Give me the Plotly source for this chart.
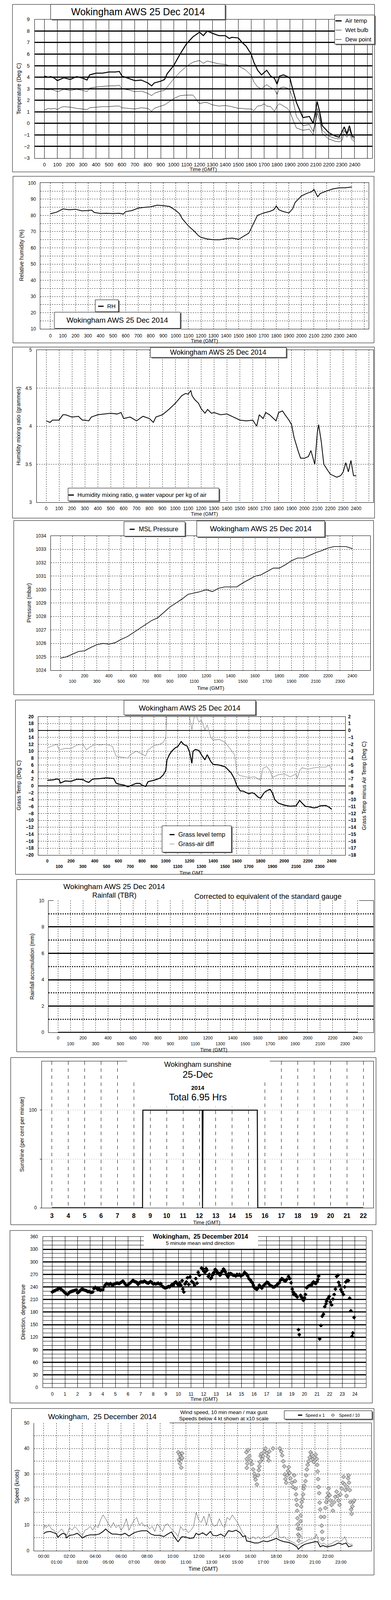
import plotly.graph_objects as go

# ===================== DATA =====================
# Panel 1 - temperatures; time axis in "HHMM" hundreds (hours x 100)
t_temp = [0, 30, 50, 80, 100, 130, 150, 200, 250, 300, 330, 350, 400, 450, 500, 550, 580, 600, 650, 700,
          750, 800, 830, 850, 900, 930, 950, 1000, 1050, 1100, 1150, 1200, 1230, 1260, 1300, 1350, 1400,
          1430, 1450, 1500, 1530, 1560, 1600, 1620, 1650, 1680, 1700, 1720, 1750, 1780, 1800, 1820, 1850,
          1880, 1900, 1920, 1950, 2000, 2050, 2080, 2100, 2110, 2130, 2150, 2200, 2250, 2280, 2300, 2320,
          2340, 2360, 2380, 2400]
air_temp = [4.1, 4.0, 4.05, 3.9, 3.7, 3.85, 3.95, 3.8, 4.05, 3.9, 3.75, 4.2, 4.35, 4.35, 4.45, 4.45, 4.5, 4.1,
            3.9, 3.7, 3.75, 3.5, 3.25, 3.5, 3.65, 3.8, 4.3, 5.0, 6.0, 6.9, 7.5, 7.9, 7.6, 8.0, 7.8, 7.6, 7.6,
            7.35, 7.45, 7.4, 7.0, 6.7, 6.0, 5.3, 4.6, 4.2, 4.4, 4.6, 4.1, 3.9, 3.4, 4.1, 4.2, 4.05, 3.9, 3.0,
            1.8, 0.5, 0.6, 0.0, 1.2, 1.9, 1.0, -0.2, -0.8, -1.1, -1.2, -0.8, -0.3, -0.9, -0.2, -1.1, -1.2]
wet_bulb = [2.95, 2.9, 2.95, 2.85, 2.75, 2.85, 2.95, 2.85, 2.95, 2.85, 2.75, 3.05, 3.15, 3.2, 3.25, 3.25, 3.3,
            3.0, 2.9, 2.75, 2.8, 2.6, 2.4, 2.6, 2.8, 2.85, 3.15, 3.85, 4.45, 4.95, 5.3, 5.45, 5.2, 5.4, 5.3,
            5.15, 5.1, 5.0, 5.0, 4.95, 4.8, 4.6, 4.15, 3.6, 3.15, 3.0, 3.2, 3.35, 3.1, 2.95, 2.5, 3.05, 3.15,
            3.05, 2.85, 2.2, 0.6, -0.2, -0.1, -0.7, 0.4, 1.3, 0.6, -0.6, -1.1, -1.3, -1.35, -1.2, -0.6, -1.0,
            -0.5, -1.2, -1.4]
dew_point = [1.15, 1.3, 1.25, 1.3, 1.2, 1.4, 1.45, 1.4, 1.3, 1.25, 1.2, 1.35, 1.4, 1.45, 1.45, 1.5, 1.5, 1.35,
             1.3, 1.25, 1.35, 1.3, 1.05, 1.3, 1.5, 1.6, 1.75, 2.15, 2.4, 2.45, 2.45, 1.7, 1.8, 1.8, 1.6, 1.5,
             1.55, 1.5, 1.45, 1.3, 1.3, 1.25, 1.25, 1.1, 1.5, 1.55, 1.7, 1.5, 1.45, 1.05, 1.5, 1.7, 1.5, 1.3,
             1.0, 0.4, -0.4, -0.6, -0.5, -1.0, 0.2, 0.9, 0.3, -0.9, -1.35, -1.55, -1.6, -1.5, -0.9, -1.2, -0.9,
             -1.4, -1.6]

# Panel 2 - relative humidity
t_rh = [0, 50, 100, 150, 200, 250, 300, 330, 350, 400, 450, 500, 550, 580, 600, 650, 700, 750, 800, 850, 900,
        950, 1000, 1030, 1050, 1100, 1150, 1180, 1200, 1250, 1300, 1350, 1400, 1450, 1500, 1550, 1580, 1600,
        1630, 1650, 1700, 1750, 1780, 1800, 1820, 1850, 1900, 1930, 1950, 2000, 2050, 2080, 2100, 2130, 2150,
        2200, 2250, 2300, 2350, 2400]
rel_hum = [81, 82, 84, 83.5, 83.8, 82.8, 83, 83.2, 81.8, 81.2, 81.3, 81.1, 81.3, 80.8, 82.3, 83, 84.5, 85, 85.3,
           86.3, 86, 85.5, 83, 81, 78, 73.5, 70, 67.5, 66.5, 65.5, 65, 65, 65.7, 66, 65.3, 67.5, 69, 72, 77, 80,
           81.5, 82.5, 83.5, 85.8, 83.5, 82.5, 81.5, 84, 88, 92, 93.8, 94.5, 96, 91.5, 93.5, 95, 96.3, 97, 97,
           97.5]

# Panel 3 - humidity mixing ratio
t_mix = [0, 30, 50, 100, 130, 150, 200, 250, 280, 300, 330, 350, 400, 450, 500, 550, 580, 600, 650, 700, 750,
         800, 830, 850, 900, 950, 1000, 1050, 1080, 1100, 1120, 1130, 1150, 1180, 1200, 1230, 1250, 1280, 1300,
         1350, 1400, 1450, 1500, 1550, 1600, 1630, 1650, 1680, 1700, 1730, 1750, 1780, 1800, 1830, 1850, 1880,
         1900, 1920, 1950, 1970, 2000, 2030, 2050, 2080, 2100, 2110, 2130, 2150, 2180, 2200, 2250, 2280, 2300,
         2320, 2340, 2360, 2380, 2400]
mix_ratio = [4.07, 4.05, 4.08, 4.08, 4.15, 4.15, 4.12, 4.13, 4.08, 4.08, 4.07, 4.12, 4.15, 4.16, 4.17, 4.16,
             4.18, 4.1, 4.12, 4.07, 4.13, 4.1, 4.05, 4.12, 4.15, 4.22, 4.3, 4.4, 4.43, 4.42, 4.47, 4.4, 4.35,
             4.3, 4.23, 4.17, 4.22, 4.17, 4.18, 4.15, 4.16, 4.12, 4.08, 4.07, 4.08, 4.0, 4.15, 4.1, 4.18, 4.15,
             4.12, 4.07, 4.18, 4.2, 4.15, 4.08, 4.02, 3.85, 3.68, 3.58, 3.58, 3.6, 3.68, 3.5, 3.92, 4.02, 3.8,
             3.5, 3.42, 3.37, 3.33, 3.35, 3.4, 3.52, 3.4, 3.55, 3.35, 3.35]

# Panel 4 - MSL pressure (every 30 minutes)
t_pres = [0, 50, 100, 150, 200, 250, 300, 350, 400, 450, 500, 550, 600, 650, 700, 750, 800, 850, 900, 950, 1000,
          1050, 1100, 1150, 1200, 1250, 1300, 1350, 1400, 1450, 1500, 1550, 1600, 1650, 1700, 1750, 1800, 1850,
          1900, 1950, 2000, 2050, 2100, 2150, 2200, 2250, 2300, 2350, 2400]
pressure = [1024.9, 1025.0, 1025.2, 1025.4, 1025.45, 1025.7, 1025.9, 1026.0, 1025.95, 1026.05, 1026.3, 1026.5,
            1026.8, 1027.1, 1027.4, 1027.7, 1027.9, 1028.3, 1028.7, 1029.0, 1029.3, 1029.65, 1029.75, 1029.85,
            1030.0, 1029.85, 1030.1, 1030.2, 1030.2, 1030.2, 1030.5, 1030.75, 1031.0, 1031.1, 1031.35, 1031.6,
            1031.6, 1031.85, 1032.15, 1032.35, 1032.35, 1032.55, 1032.75, 1032.9, 1033.1, 1033.2, 1033.2,
            1033.2, 1033.05]

# Panel 5 - grass temperature and grass-air difference
t_grass = [0, 50, 80, 100, 110, 150, 200, 250, 300, 330, 350, 380, 400, 450, 500, 540, 560, 580, 600, 650, 680,
           700, 750, 780, 800, 830, 850, 900, 950, 980, 1000, 1010, 1030, 1050, 1080, 1100, 1130, 1150, 1180,
           1200, 1220, 1230, 1250, 1280, 1300, 1330, 1350, 1380, 1400, 1450, 1500, 1530, 1550, 1580, 1600,
           1630, 1650, 1700, 1730, 1750, 1780, 1800, 1830, 1850, 1880, 1900, 1920, 1950, 2000, 2050, 2100,
           2130, 2150, 2180, 2200, 2250, 2280, 2300, 2350, 2380, 2400]
grass_temp = [1.6, 1.7, 2.0, 1.8, 0.8, 1.4, 1.3, 1.9, 1.8, 1.2, 1.0, 1.9, 2.0, 2.1, 2.3, 2.2, 2.1, 0.8, 0.5,
              0.2, -0.3, 0.0, 0.7, 0.7, 0.2, -0.2, 1.2, 1.6, 2.2, 3.2, 4.5, 7.5, 9.0, 10.0, 11.0, 11.3, 12.8,
              12.0, 11.5, 9.8, 6.5, 10.0, 10.5, 10.2, 9.0, 7.5, 9.0, 7.0, 6.2, 6.0, 5.5, 4.5, 3.8, 2.0, 0.0,
              -1.5, -1.5, -2.3, -2.0, -2.3, -3.3, -3.6, -2.0, -1.5, -1.0, -2.0, -4.0, -5.0, -5.6, -5.9, -5.8,
              -4.2, -5.0, -6.0, -6.0, -6.4, -6.2, -5.8, -5.7, -6.2, -6.8]
t_diff = [0, 50, 80, 100, 150, 200, 250, 300, 330, 350, 400, 450, 500, 550, 580, 600, 650, 680, 700, 750, 800,
          830, 850, 900, 950, 980, 1000, 1010, 1050, 1100, 1150, 1190, 1200, 1220, 1240, 1260, 1280, 1300, 1330,
          1350, 1380, 1400, 1450, 1500, 1550, 1580, 1600, 1620, 1650, 1700, 1750, 1800, 1820, 1850, 1880, 1900,
          1950, 2000, 2050, 2100, 2110, 2130, 2150, 2200, 2250, 2300, 2350, 2380, 2400]
grass_air_diff = [-2.5, -2.2, -2.0, -2.8, -2.6, -2.6, -2.1, -2.0, -2.8, -2.5, -2.0, -2.1, -2.0, -2.3, -3.7,
                  -3.8, -3.9, -4.0, -3.5, -3.0, -3.4, -3.7, -2.8, -2.2, -2.0, -1.7, -1.0, 3.0, 4.0, 4.4, 4.5,
                  3.5, 2.0, 0.1, 2.0, 2.0, 1.2, 1.5, 0.1, 0.8, -1.0, -1.4, -1.3, -1.7, -2.8, -3.5, -6.0, -6.5,
                  -6.6, -6.8, -6.7, -7.2, -5.5, -5.2, -5.8, -6.8, -6.4, -6.3, -6.7, -6.3, -6.9, -5.8, -5.4,
                  -5.6, -5.4, -5.3, -5.3, -5.0, -5.7]

# Panel 6 - rainfall accumulation (none fell)
t_rain = [0, 2400]
rain_accum = [0.0, 0.0]

# Panel 7 - sunshine (hours GMT, per cent per minute)
sun_hours = [3.0, 8.53, 8.55, 12.17, 12.19, 12.22, 15.53, 15.56, 22.0]
sunshine = [0, 0, 100, 100, 0, 100, 100, 0, 0]

# Panel 8 - 5 minute mean wind direction (hours GMT, degrees true)
dir_hours_early = [i / 10 for i in range(104)]
wind_dir_early = [228, 230, 231, 233, 234, 236, 237, 234, 232, 229,
                  226, 224, 222, 225, 228, 229, 230, 231, 232, 233,
                  226, 228, 231, 234, 235, 233, 232, 231, 229, 229,
                  228, 227, 228, 236, 239, 237, 234, 236, 232, 233,
                  233, 240, 245, 248, 247, 246, 248, 246, 244, 247,
                  248, 249, 249, 248, 250, 252, 254, 250, 246, 243,
                  245, 248, 250, 253, 256, 253, 252, 251, 246, 250,
                  252, 252, 252, 254, 252, 250, 249, 251, 253, 250,
                  247, 248, 247, 248, 249, 247, 248, 242, 240, 238,
                  238, 239, 241, 240, 243, 246, 244, 250, 252, 248,
                  244, 250, 244, 255]
dir_hours_late = [10.35, 10.43, 10.53, 10.63, 10.72, 10.82, 10.92, 11.06, 11.18, 11.28, 11.38, 11.48, 11.57,
                  11.67, 11.83, 11.97, 12.0, 12.11, 12.2, 12.27, 12.37, 12.45, 12.56, 12.62, 12.70, 12.76,
                  12.82, 12.92, 13.0, 13.06, 13.14, 13.22, 13.3, 13.36, 13.42, 13.49, 13.58, 13.65, 13.72,
                  13.79, 13.86, 13.93, 14.0, 14.08, 14.15, 14.25, 14.35, 14.44, 14.55, 14.65, 14.74, 14.85,
                  14.95, 15.04, 15.15, 15.25, 15.33, 15.43, 15.5, 15.59, 15.66, 15.73, 15.8, 15.87, 15.95,
                  16.03, 16.12, 16.22, 16.32, 16.42, 16.52, 16.62, 16.72, 16.82, 16.92, 17.02, 17.12, 17.21,
                  17.3, 17.41, 17.5, 17.61, 17.7, 17.81, 17.9, 18.0, 18.1, 18.2, 18.3, 18.4, 18.5, 18.6,
                  18.74, 18.84, 18.94, 19.03, 19.1, 19.15, 19.22, 19.29, 19.36, 19.43, 19.53, 19.59, 19.69,
                  19.76, 19.83, 19.92, 20.0, 20.08, 20.18, 20.28, 20.38, 20.48, 20.58, 20.65, 20.72, 20.8,
                  20.87, 20.94, 21.01, 21.07, 21.13, 21.21, 21.31, 21.41, 21.51, 21.61, 21.71, 21.76, 21.86,
                  21.96, 22.06, 22.16, 22.26, 22.36, 22.46, 22.56, 22.66, 22.71, 22.79, 22.89, 22.99, 23.09,
                  23.19, 23.29, 23.41, 23.49, 23.59, 23.68, 23.78, 23.84, 23.94]
wind_dir_late = [235, 228, 247, 252, 262, 246, 264, 253, 250, 244,
                 260, 249, 275, 268, 285, 283, 278, 275, 284, 280,
                 265, 270, 260, 262, 268, 272, 275, 282, 280, 275,
                 274, 272, 268, 270, 275, 278, 283, 280, 276, 270,
                 268, 264, 272, 270, 272, 270, 268, 268, 266, 270,
                 268, 270, 266, 268, 270, 275, 272, 270, 266, 260,
                 258, 256, 252, 250, 244, 238, 236, 234, 238, 244,
                 240, 237, 242, 245, 248, 251, 250, 246, 243, 242,
                 240, 240, 242, 244, 248, 250, 256, 260, 258, 255,
                 254, 258, 265, 260, 250, 235, 228, 222, 223, 222,
                 218, 216, 138, 126, 220, 216, 213, 208, 214, 222,
                 238, 241, 243, 244, 245, 250, 252, 250, 248, 250,
                 253, 258, 266, 116, 148, 170, 175, 193, 200, 206,
                 212, 217, 204, 197, 211, 222, 235, 265, 268, 251,
                 244, 234, 228, 222, 240, 252, 256, 255, 213, 183,
                 122, 130, 167]

# Panel 9 - wind speed (hours GMT, knots)
mean_hours = [0.0, 0.2, 0.5, 0.8, 1.0, 1.1, 1.3, 1.5, 1.7, 1.75, 2.0, 2.3, 2.6, 2.8, 3.0, 3.3, 3.6, 4.0, 4.3,
              4.6, 4.8, 5.0, 5.3, 5.6, 6.0, 6.3, 6.6, 7.0, 7.3, 7.6, 8.0, 8.3, 8.6, 9.0, 9.3, 9.6, 9.9, 10.1,
              10.4, 10.7, 11.0, 11.3, 11.6, 11.8, 12.0, 12.3, 12.6, 12.9, 13.1, 13.4, 13.7, 14.0, 14.3, 14.6,
              14.9, 15.2, 15.4, 15.6, 15.7, 16.0, 16.3, 16.6, 17.0, 17.3, 17.6, 18.0, 18.3, 18.6, 19.0, 19.3,
              19.6, 19.7, 19.9, 20.2, 20.6, 21.0, 21.2, 21.4, 21.6, 21.9, 22.2, 22.5, 22.8, 23.1, 23.4, 23.6, 23.9]
mean_speed = [6.7, 7.3, 7.5, 7.0, 6.5, 5.2, 6.2, 6.8, 6.3, 5.0, 6.0, 6.2, 6.8, 6.0, 5.0, 5.8, 6.2, 6.2, 6.5,
              7.5, 8.5, 7.5, 6.5, 6.5, 6.2, 6.8, 5.7, 7.0, 7.5, 7.8, 7.8, 6.5, 6.0, 6.0, 5.5, 6.5, 7.3, 5.5,
              3.5, 5.5, 5.3, 4.8, 5.0, 6.8, 6.2, 7.0, 6.0, 7.5, 6.0, 5.8, 6.5, 5.5, 7.8, 7.5, 8.0, 7.0, 5.5,
              5.8, 3.8, 3.5, 3.0, 3.0, 3.8, 3.5, 4.0, 4.8, 4.0, 3.5, 3.2, 2.5, 1.5, 0.5, 1.5, 2.5, 3.0, 3.5,
              3.5, 1.5, 2.0, 1.5, 1.8, 2.2, 3.0, 2.5, 3.0, 1.5, 2.0]
gust_hours = [0.0, 0.1, 0.2, 0.4, 0.6, 0.8, 1.0, 1.2, 1.4, 1.6, 1.8, 2.0, 2.2, 2.4, 2.6, 2.8, 3.0, 3.2, 3.4, 3.6,
              3.8, 4.0, 4.2, 4.4, 4.6, 4.8, 5.0, 5.2, 5.4, 5.6, 5.8, 6.0, 6.2, 6.4, 6.6, 6.8, 7.0, 7.2, 7.4, 7.6,
              7.8, 8.0, 8.2, 8.4, 8.6, 8.8, 9.0, 9.2, 9.4, 9.6, 9.8, 10.0, 10.2, 10.4, 10.6, 10.8, 11.0, 11.2,
              11.4, 11.6, 11.8, 12.0, 12.2, 12.4, 12.6, 12.8, 13.0, 13.2, 13.4, 13.6, 13.8, 14.0, 14.2, 14.4,
              14.6, 14.8, 15.0, 15.2, 15.4, 15.6, 15.8, 16.0, 16.2, 16.4, 16.6, 16.8, 17.0, 17.2, 17.4, 17.6,
              17.8, 18.0, 18.1, 18.2, 18.4, 18.6, 18.8, 19.0, 19.2, 19.4, 19.6, 19.8, 20.0, 20.2, 20.4, 20.6,
              20.8, 21.0, 21.1, 21.3, 21.5, 21.7, 21.9, 22.1, 22.3, 22.5, 22.7, 22.9, 23.1, 23.3, 23.5, 23.7, 23.9]
gust_speed = [8.5, 10, 9, 10.2, 8.5, 8.0, 6.5, 7.5, 8.5, 7.0, 6.0, 9.0, 8.0, 9.5, 8.5, 7.0, 6.0, 8.0, 8.5, 9.5,
              8.0, 10.0, 9.0, 12.0, 14.0, 12.5, 10.5, 9.0, 11.0, 9.0, 10.0, 8.0, 9.5, 12.5, 8.0, 10.0, 12.0,
              13.0, 10.0, 11.0, 9.5, 10.0, 8.5, 9.5, 7.5, 10.5, 9.0, 7.5, 10.0, 10.5, 9.0, 8.0, 7.0, 5.5, 9.5,
              8.0, 8.5, 7.0, 8.0, 9.5, 15.0, 12.0, 11.0, 13.5, 10.0, 14.5, 11.0, 9.5, 10.0, 12.5, 10.0, 9.0,
              13.0, 12.0, 14.0, 12.5, 11.0, 9.0, 7.0, 6.0, 5.0, 4.5, 5.5, 4.5, 5.5, 4.5, 5.5, 5.0, 5.5, 6.0,
              7.0, 8.5, 10.0, 5.5, 5.0, 5.5, 4.5, 4.0, 3.5, 3.0, 2.0, 2.5, 3.0, 3.5, 4.0, 4.5, 4.5, 5.0, 6.5,
              3.5, 2.5, 3.0, 2.0, 2.5, 2.8, 3.5, 4.0, 3.5, 4.0, 5.5, 3.0, 2.5, 2.5]
low_hours = [10.42, 10.48, 10.52, 10.55, 10.61, 10.65, 10.67, 10.71, 10.71,
             15.69, 15.72, 15.72, 15.76, 15.82, 15.92, 16.01, 16.11, 16.21, 16.30, 16.34, 16.40, 16.50,
             16.59, 16.65, 16.69, 16.73, 16.79, 16.84, 16.92, 16.98, 17.08, 17.17, 17.27, 17.36, 17.42, 17.46,
             17.75, 18.27, 18.39, 18.46, 18.54, 18.62, 18.66, 18.71, 18.77, 18.85,
             18.91, 18.97, 19.04, 19.10, 19.20, 19.29, 19.39, 19.45, 19.49, 19.53,
             19.56, 19.60, 19.62, 19.64, 19.66, 19.68, 19.70, 19.74, 19.78, 19.83,
             19.87, 19.89, 19.93, 19.97, 20.03, 20.08, 20.12, 20.16, 20.26, 20.32,
             20.37, 20.43, 20.51, 20.59, 20.66, 20.74, 20.82, 20.90, 20.97, 21.05,
             21.13, 21.17, 21.20, 21.24, 21.28, 21.32, 21.36, 21.40, 21.45, 21.51, 21.55, 21.59,
             21.71, 21.80, 21.86, 21.94, 22.00, 22.05, 22.13, 22.19, 22.28, 22.38,
             22.48, 22.57, 22.67, 22.77, 22.82, 22.90, 22.96, 23.06, 23.15, 23.21,
             23.29, 23.35, 23.44, 23.50, 23.56, 23.60, 23.63, 23.69, 23.73, 23.79, 23.83, 23.89, 23.94, 24.02]
low_speed_x10 = [38.5, 35.6, 37.6, 34.1, 36.8, 32.5, 36.0, 38.1, 36.3,
                 38.5, 35.9, 32.4, 34.1, 39.4, 37.0, 35.3, 33.9, 31.8, 30.1, 28.9, 27.8, 25.9,
                 29.5, 31.5, 33.0, 34.7, 37.0, 37.9, 35.9, 37.0, 38.8, 40.0, 38.2, 36.8, 35.3, 38.8,
                 40.0, 40.0, 38.8, 37.3, 35.0, 33.0, 29.8, 28.0, 26.6, 29.5,
                 31.2, 32.7, 30.4, 28.3, 26.6, 24.9, 29.5, 27.2, 24.3, 22.0,
                 19.9, 17.9, 15.6, 12.7, 10.3, 8.6, 6.3, 3.9, 5.7, 8.6,
                 11.5, 13.8, 17.3, 19.0, 20.2, 22.0, 24.3, 25.4, 27.2, 29.5,
                 31.8, 33.6, 35.0, 36.5, 38.5, 37.6, 35.9, 34.7, 36.5, 37.6,
                 35.9, 33.6, 31.0, 28.0, 24.9, 22.5, 18.8, 16.1, 13.2, 9.8, 7.4, 4.5,
                 13.2, 16.7, 19.0, 20.8, 22.5, 24.3, 21.7, 19.6, 17.9, 15.6,
                 19.0, 21.1, 23.1, 21.4, 19.6, 17.9, 22.0, 24.3, 26.6, 28.9,
                 26.0, 23.7, 21.4, 24.9, 28.3, 29.5, 26.6, 23.7, 19.0, 16.1, 14.4, 17.3, 19.0, 19.6]

for a, b in [(t_temp, air_temp), (t_temp, wet_bulb), (t_temp, dew_point), (t_rh, rel_hum), (t_mix, mix_ratio),
             (t_pres, pressure), (t_grass, grass_temp), (t_diff, grass_air_diff), (sun_hours, sunshine),
             (dir_hours_early, wind_dir_early), (dir_hours_late, wind_dir_late), (mean_hours, mean_speed),
             (gust_hours, gust_speed), (low_hours, low_speed_x10)]:
    assert len(a) == len(b), (len(a), len(b))

# tick labels
hhmm_ticks = list(range(0, 2500, 100))
sun_ticks = list(range(3, 23))
hour_ticks = list(range(0, 25))
clock_labels = ["%02d:00" % h for h in range(0, 24)]

# ===================== LAYOUT HELPERS =====================
# The photographed area ends a little above 4200 px, so the stacked panels are laid out
# with the reference's vertical positions compressed to fit inside it.
W, H = 1000, 5000
YS = 0.83
def fx(x): return x / W
def fy(y): return 1 - (y * YS) / H

FONT = "Liberation Sans, Arial, sans-serif"
BLACK = "black"
DOTGRID = dict(showgrid=True, gridcolor="#222222", gridwidth=1, griddash="dot")

shapes, annots = [], []
layout = dict(width=W, height=H, margin=dict(l=0, r=0, t=0, b=0), paper_bgcolor="white",
              plot_bgcolor="white", showlegend=False)
fig = go.Figure()


def tf(size=12, bold=False):
    return dict(family=FONT, size=size, color=BLACK, weight="bold" if bold else "normal")


def xax(L, R, rng, **kw):
    d = dict(domain=[fx(L), fx(R)], range=rng, showline=True, linecolor=BLACK, linewidth=1, mirror=True,
             zeroline=False, ticks="", showgrid=False, fixedrange=True, tickfont=tf(12), tickangle=0)
    d.update(kw)
    return d


def yax(T, B, rng, **kw):
    d = dict(domain=[fy(B), fy(T)], range=rng, showline=True, linecolor=BLACK, linewidth=1, mirror=True,
             zeroline=False, ticks="", showgrid=False, fixedrange=True, tickfont=tf(12))
    d.update(kw)
    return d


def put_axes(i, xa, ya):
    s = "" if i == 1 else str(i)
    xa["anchor"] = "y" + s
    ya["anchor"] = "x" + s
    layout["xaxis" + s] = xa
    layout["yaxis" + s] = ya
    return "x" + s, "y" + s


def txt(x, y, s, size=12, bold=False, anchor="center", angle=0):
    annots.append(dict(xref="paper", yref="paper", x=fx(x), y=fy(y), text=s, showarrow=False,
                       xanchor=anchor, yanchor="middle", textangle=angle, font=tf(size, bold)))


def rect(x0, y0, x1, y1, fill="rgba(0,0,0,0)", lw=1, lc=BLACK):
    shapes.append(dict(type="rect", xref="paper", yref="paper", x0=fx(x0), x1=fx(x1), y0=fy(y1), y1=fy(y0),
                       fillcolor=fill, line=dict(color=lc, width=lw), layer="above"))


def box(x0, y0, x1, y1, sh=3):
    rect(x0 + sh, y0 + sh, x1 + sh, y1 + sh, fill="#6a6a6a", lw=0)
    rect(x0, y0, x1, y1, fill="white")


def seg(x0, x1, y, w=1, color=BLACK):
    shapes.append(dict(type="line", xref="paper", yref="paper", x0=fx(x0), x1=fx(x1), y0=fy(y), y1=fy(y),
                       line=dict(color=color, width=w), layer="above"))


def two_row(labels):
    return [lab if k % 2 == 0 else "<br>" + lab for k, lab in enumerate(labels)]


# ===================== PANEL 1 : temperatures =====================
xa = xax(88.6, 952.2, [-75.3, 2537], tickvals=hhmm_ticks + [2500], ticktext=[str(v) for v in hhmm_ticks] + [""],
         showgrid=True, gridcolor=BLACK, gridwidth=1, tickfont=tf(13), ticklabelstandoff=5)
ya = yax(51.7, 480.4, [-3, 9], tickvals=list(range(-3, 10)), showgrid=True, gridcolor=BLACK, gridwidth=3,
         tickfont=tf(13), ticklabelstandoff=9)
x1, y1 = put_axes(1, xa, ya)
fig.add_trace(go.Scatter(x=t_temp, y=dew_point, mode="lines", line=dict(color=BLACK, width=1), xaxis=x1, yaxis=y1))
fig.add_trace(go.Scatter(x=t_temp, y=wet_bulb, mode="lines", line=dict(color=BLACK, width=1), xaxis=x1, yaxis=y1))
fig.add_trace(go.Scatter(x=t_temp, y=air_temp, mode="lines", line=dict(color=BLACK, width=2.5), xaxis=x1, yaxis=y1))
rect(31.9, 5.2, 957.9, 523.4)
box(129.5, 5.2, 575.9, 51.7)
txt(352.7, 28.2, "Wokingham AWS 25 Dec 2014", 25)
box(855.9, 37.9, 957.9, 128.1)
for yy, lab, w in [(55.1, "Air temp", 3), (83.7, "Wet bulb", 1), (112.6, "Dew point", 1)]:
    seg(858, 873.7, yy + 1, w)
    txt(881, yy, lab, 15, anchor="left")
txt(47.8, 266, "Temperature (Deg C)", 14, angle=-90)
txt(519.8, 515.5, "Time (GMT)", 13)

# ===================== PANEL 2 : relative humidity =====================
xa = xax(103.3, 942.6, [-79.4, 2535], tickvals=hhmm_ticks + [2500], ticktext=[str(v) for v in hhmm_ticks] + [""],
         ticklabelstandoff=6, **DOTGRID)
ya = yax(557.5, 1009.3, [10, 100], tickvals=list(range(10, 101, 10)), ticklabelstandoff=8,
         minor=dict(dtick=5, tick0=0, showgrid=True, gridcolor="#222222", griddash="dot", ticks=""), **DOTGRID)
x2, y2 = put_axes(2, xa, ya)
fig.add_trace(go.Scatter(x=t_rh, y=rel_hum, mode="lines", line=dict(color=BLACK, width=2), xaxis=x2, yaxis=y2))
rect(33.2, 536.9, 956.6, 1052.4)
box(243.6, 919.1, 302.9, 956)
seg(251, 265, 939, 3)
txt(272, 938.7, "RH", 15, anchor="left")
box(139, 957.3, 461.1, 1007.3)
txt(300, 982.1, "Wokingham AWS 25 Dec 2014", 19)
txt(54.2, 781.4, "Relative humidity (%)", 14, angle=-90)
txt(523, 1045.5, "Time (GMT)", 13)

# ===================== PANEL 3 : mixing ratio =====================
xa = xax(93.75, 954.7, [-73.4, 2533], tickvals=hhmm_ticks + [2500], ticktext=[str(v) for v in hhmm_ticks] + [""],
         ticklabelstandoff=5, **DOTGRID)
ya = yax(1074.5, 1545.5, [3, 5], tickvals=[3, 3.5, 4, 4.5, 5], ticklabelstandoff=9, **DOTGRID)
x3, y3 = put_axes(3, xa, ya)
fig.add_trace(go.Scatter(x=t_mix, y=mix_ratio, mode="lines", line=dict(color=BLACK, width=2), xaxis=x3, yaxis=y3))
rect(31.9, 1065.2, 957.9, 1594.4)
box(384.6, 1066.2, 732.1, 1097.2)
txt(558, 1081.7, "Wokingham AWS 25 Dec 2014", 18)
box(174.1, 1501.5, 560, 1541)
seg(175, 189, 1523, 3)
txt(195.5, 1521.8, "Humidity mixing ratio, g water vapour per kg of air", 15, anchor="left")
txt(46.6, 1309.7, "Humidity mixing ratio (grammes)", 14, angle=-90)
txt(523, 1581.7, "Time (GMT)", 13)

# ===================== PANEL 4 : pressure =====================
xa = xax(129.5, 947, [-79.7, 2547.5], tickvals=hhmm_ticks, ticktext=two_row([str(v) for v in hhmm_ticks]),
         ticklabelstandoff=4, tickfont=tf(11), **DOTGRID)
ya = yax(1649.2, 2065.2, [1024, 1034], tickvals=list(range(1024, 1035)), ticklabelstandoff=8, **DOTGRID)
x4, y4 = put_axes(4, xa, ya)
fig.add_trace(go.Scatter(x=t_pres, y=pressure, mode="lines", line=dict(color=BLACK, width=1.6), xaxis=x4, yaxis=y4))
rect(35.1, 1602, 955.4, 2140.7)
box(317, 1605.5, 473.2, 1650.3)
seg(331.6, 344.4, 1629, 3)
txt(353, 1628.6, "MSL Pressure", 16, anchor="left")
box(503.2, 1603.1, 830.4, 1652.7)
txt(667, 1627.2, "Wokingham AWS 25 Dec 2014", 19)
txt(73.3, 1856.9, "Pressure (mbar)", 14, angle=-90)
txt(539, 2120, "Time (GMT)", 13)

# ===================== PANEL 5 : grass temperature =====================
xa = xax(97.6, 883.3, [-77.6, 2516], tickvals=hhmm_ticks, ticktext=two_row([str(v) for v in hhmm_ticks]),
         ticklabelstandoff=5, tickfont=tf(11, True), **DOTGRID)
ya = yax(2208.5, 2636.5, [-20, 20], tickvals=list(range(-20, 21, 2)), ticklabelstandoff=8, tickfont=tf(12, True),
         zeroline=True, zerolinecolor=BLACK, zerolinewidth=2, **DOTGRID)
x5, y5 = put_axes(5, xa, ya)
layout["yaxis10"] = dict(domain=[fy(2636.5), fy(2208.5)], range=[-18, 2], overlaying="y5", side="right",
                         anchor="x5", tickvals=list(range(-18, 3)), showgrid=False, showline=False,
                         zeroline=True, zerolinecolor=BLACK, zerolinewidth=2, ticks="", fixedrange=True,
                         tickfont=tf(12, True), ticklabelstandoff=6)
fig.add_trace(go.Scatter(x=t_diff, y=grass_air_diff, mode="lines", line=dict(color="#8a8a8a", width=1.3),
                         xaxis=x5, yaxis="y10"))
fig.add_trace(go.Scatter(x=t_grass, y=grass_temp, mode="lines", line=dict(color=BLACK, width=2.5), xaxis=x5, yaxis=y5))
rect(39.5, 2157.2, 957.9, 2696.4)
box(317, 2157.9, 653.7, 2203.3)
txt(485, 2181.3, "Wokingham AWS 25 Dec 2014", 19)
box(414.5, 2546.3, 591.8, 2627.9)
seg(433.7, 446.4, 2573.5, 3)
txt(454, 2572.8, "Grass level temp", 16, anchor="left")
seg(433.7, 446.4, 2602.5, 1.3, "#8a8a8a")
txt(454, 2602.1, "Grass-air diff", 16, anchor="left")
txt(47.8, 2421.3, "Grass Temp (Deg C)", 14, angle=-90)
txt(931.1, 2423, "Grass Temp minus Air Temp (Deg C)", 14, angle=-90)
txt(489.8, 2691.5, "Time GMT", 13)

# ===================== PANEL 6 : rainfall =====================
xa = xax(124.4, 955.4, [-75.8, 2528], tickvals=hhmm_ticks, ticktext=two_row([str(v) for v in hhmm_ticks]),
         ticklabelstandoff=4, tickfont=tf(11), mirror=False, **DOTGRID)
ya = yax(2777.5, 3185.7, [0, 10], tickvals=[0, 2, 4, 6, 8, 10], ticklabelstandoff=8, showgrid=True,
         gridcolor=BLACK, gridwidth=3,
         minor=dict(dtick=1, tick0=0, showgrid=True, gridcolor="#222222", griddash="dot", ticks=""))
x6, y6 = put_axes(6, xa, ya)
fig.add_trace(go.Scatter(x=t_rain, y=rain_accum, mode="lines", line=dict(color=BLACK, width=3.5), xaxis=x6, yaxis=y6))
rect(42.7, 2712.5, 958.5, 3245.4)
seg(124.4, 137.1, 2777.5)
seg(918.4, 955.4, 2777.5)
txt(291.8, 2733.9, "Wokingham AWS 25 Dec 2014", 19)
txt(292.7, 2760.7, "Rainfall (TBR)", 18)
txt(685.3, 2764.3, "Corrected to equivalent of the standard gauge", 18.5)
txt(81.6, 2982.1, "Rainfall accumulation (mm)", 14, angle=-90)
txt(547, 3239.5, "Time (GMT)", 13)

# ===================== PANEL 7 : sunshine =====================
xa = xax(106.5, 954.7, [2.375, 22.608], tickvals=sun_ticks, ticktext=[str(v) for v in sun_ticks],
         showgrid=True, gridcolor=BLACK, gridwidth=1, griddash="dash", tickfont=tf(16, True), ticklabelstandoff=6)
ya = yax(3274.6, 3728.2, [0, 150], tickvals=[0, 50, 100], ticktext=["0", "", "100"], showgrid=True,
         gridcolor="#b5b5b5", gridwidth=1, griddash="dot", ticks="outside", ticklen=4, tickcolor=BLACK,
         ticklabelstandoff=5)
x7, y7 = put_axes(7, xa, ya)
fig.add_trace(go.Scatter(x=sun_hours, y=sunshine, mode="lines", line=dict(color=BLACK, width=2.5), xaxis=x7, yaxis=y7))
rect(27.4, 3263.2, 961.7, 3780.4)
rect(325.3, 3273.5, 690.1, 3340, fill="white", lw=0)
rect(344.4, 3339, 676, 3415, fill="white", lw=0)
txt(505.7, 3284.5, "Wokingham sunshine", 18)
txt(505.7, 3315, "25-Dec", 24)
txt(505.7, 3356.1, "2014", 15, bold=True)
txt(505.7, 3385, "Total 6.95 Hrs", 24)
txt(56.1, 3500.7, "Sunshine (per cent per minute)", 14, angle=-90)
txt(529.3, 3773.5, "Time (GMT)", 13)

# ===================== PANEL 8 : wind direction =====================
xa = xax(109.7, 935.6, [-0.752, 24.87], tickvals=hour_ticks, ticktext=[str(v) for v in hour_ticks],
         showgrid=True, gridcolor=BLACK, gridwidth=1, ticklabelstandoff=6)
ya = yax(3817.5, 4283.6, [0, 360], tickvals=list(range(0, 361, 30)), showgrid=True, gridcolor=BLACK,
         gridwidth=3, ticklabelstandoff=9,
         minor=dict(dtick=10, tick0=0, showgrid=True, gridcolor=BLACK, gridwidth=1, ticks=""))
x8, y8 = put_axes(8, xa, ya)
fig.add_trace(go.Scatter(x=dir_hours_early + dir_hours_late, y=wind_dir_early + wind_dir_late, mode="markers",
                         marker=dict(symbol="diamond", size=8, color=BLACK, line=dict(width=0)), xaxis=x8, yaxis=y8))
rect(25.5, 3798.2, 952.2, 4331.9)
rect(368, 3810, 660, 3854.3, fill="white", lw=0)
txt(512, 3817, "Wokingham,\u00a0 25 December 2014", 16, bold=True)
txt(512, 3838, "5 minute mean wind direction", 13.5)
txt(58.7, 4050.7, "Direction, degrees true", 14, angle=-90)
txt(521.7, 4320, "Time (GMT)", 13)

# ===================== PANEL 9 : wind speed =====================
xa = xax(87.4, 950.3, [-0.733, 25.375], tickvals=list(range(0, 24)), ticktext=two_row(clock_labels),
         mirror=False, ticklabelstandoff=4, tickfont=tf(11.5), **DOTGRID)
ya = yax(4393.4, 4788.7, [0, 50], tickvals=list(range(0, 51, 10)), ticklabelstandoff=9,
         minor=dict(dtick=5, tick0=0, showgrid=True, gridcolor="#222222", griddash="dot", ticks=""), **DOTGRID)
x9, y9 = put_axes(9, xa, ya)
fig.add_trace(go.Scatter(x=gust_hours, y=gust_speed, mode="lines", line=dict(color="#454545", width=1), xaxis=x9, yaxis=y9))
fig.add_trace(go.Scatter(x=mean_hours, y=mean_speed, mode="lines", line=dict(color=BLACK, width=2), xaxis=x9, yaxis=y9))
fig.add_trace(go.Scatter(x=low_hours, y=low_speed_x10, mode="markers",
                         marker=dict(symbol="diamond", size=8, color="#c8c8c8", line=dict(color="#303030", width=1)),
                         xaxis=x9, yaxis=y9))
rect(29.3, 4348.9, 956.6, 4864)
seg(433.7, 950.3, 4393.4)
txt(261.5, 4374, "Wokingham,\u00a0 25 December 2014", 19)
txt(572.7, 4360.5, "Wind speed, 10 min mean / max gust", 13.5)
txt(572.7, 4380, "Speeds below 4 kt shown at x10 scale", 13.5)
box(727, 4355.8, 951.5, 4381.9)
seg(762, 773, 4369.5, 3)
txt(778.5, 4369.5, "Speed x 1", 11, anchor="left")
cx, cy, r = 851.4, 4369.5, 4.5
shapes.append(dict(type="path", xref="paper", yref="paper",
                   path="M %f,%f L %f,%f L %f,%f L %f,%f Z" % (fx(cx), fy(cy - r), fx(cx + r), fy(cy),
                                                              fx(cx), fy(cy + r), fx(cx - r), fy(cy)),
                   fillcolor="#c8c8c8", line=dict(color="#303030", width=1), layer="above"))
txt(864.5, 4369.5, "Speed / 10", 11, anchor="left")
txt(43.4, 4590.8, "Speed (knots)", 14, angle=-90)
txt(519.8, 4845, "Time (GMT)", 14)

layout["shapes"] = shapes
layout["annotations"] = annots
fig.update_layout(**layout)
fig.write_html("out.html", config={"displayModeBar": False},
               post_script="document.body.style.margin='0px';document.body.style.overflow='hidden';")
